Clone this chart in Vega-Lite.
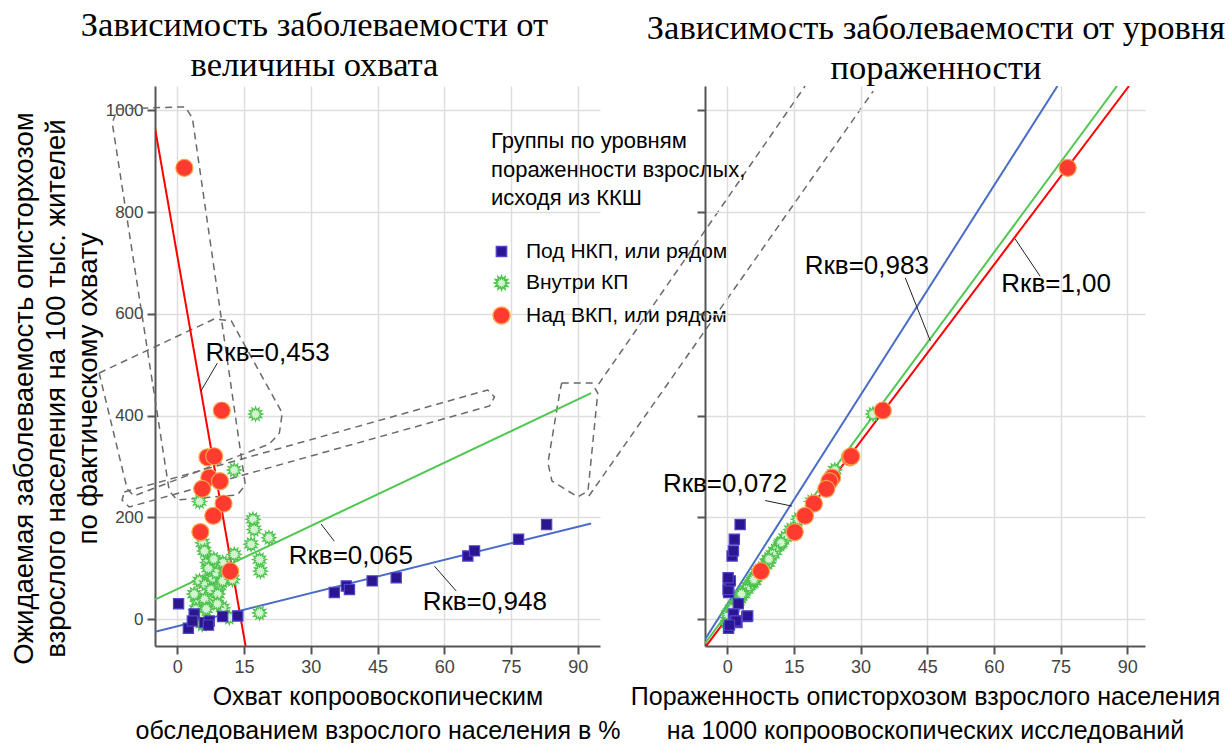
{
  "$schema": "https://vega.github.io/schema/vega-lite/v6.json",
  "background": "white",
  "padding": {"left": 10, "top": 7, "right": 0, "bottom": 0},
  "bounds": "flush",
  "spacing": 105,
  "resolve": {"legend": {"shape": "independent", "fill": "independent", "stroke": "independent", "size": "independent"}},
  "config": {
    "view": {"stroke": null},
    "font": "Liberation Sans",
    "axis": {
      "labelFont": "Liberation Sans", "labelFontSize": 18, "labelColor": "#444",
      "titleFont": "Liberation Sans", "titleFontSize": 25, "titleFontWeight": "normal", "titleColor": "black",
      "titleLineHeight": 34,
      "domainColor": "#555", "domainWidth": 2, "tickColor": "#555", "tickWidth": 2, "tickSize": 8,
      "gridColor": "#dedede", "gridWidth": 1.5, "labelPadding": 4
    },
    "title": {"font": "Liberation Serif", "fontSize": 34.5, "fontWeight": "normal", "color": "black", "anchor": "middle", "frame": "group", "lineHeight": 40}
  },
  "datasets": {
    "pts": [
      {"p":"L","g":"Внутри КП","x":17.6,"y":403},{"p":"L","g":"Внутри КП","x":12.8,"y":293},{"p":"L","g":"Внутри КП","x":5.0,"y":231},
      {"p":"L","g":"Внутри КП","x":17.0,"y":196},{"p":"L","g":"Внутри КП","x":17.3,"y":176},{"p":"L","g":"Внутри КП","x":20.6,"y":160},
      {"p":"L","g":"Внутри КП","x":16.6,"y":147},{"p":"L","g":"Внутри КП","x":18.5,"y":117},{"p":"L","g":"Внутри КП","x":18.7,"y":94},
      {"p":"L","g":"Внутри КП","x":5.7,"y":150},{"p":"L","g":"Внутри КП","x":6.1,"y":134},{"p":"L","g":"Внутри КП","x":6.8,"y":111},
      {"p":"L","g":"Внутри КП","x":10.2,"y":111},{"p":"L","g":"Внутри КП","x":12.8,"y":127},{"p":"L","g":"Внутри КП","x":5.0,"y":75},
      {"p":"L","g":"Внутри КП","x":6.4,"y":68},{"p":"L","g":"Внутри КП","x":8.0,"y":81},{"p":"L","g":"Внутри КП","x":9.5,"y":65},
      {"p":"L","g":"Внутри КП","x":8.7,"y":91},{"p":"L","g":"Внутри КП","x":10.9,"y":91},{"p":"L","g":"Внутри КП","x":4.6,"y":35},
      {"p":"L","g":"Внутри КП","x":6.1,"y":39},{"p":"L","g":"Внутри КП","x":10.2,"y":22},{"p":"L","g":"Внутри КП","x":4.2,"y":19},
      {"p":"L","g":"Внутри КП","x":11.7,"y":3},{"p":"L","g":"Внутри КП","x":18.5,"y":12},{"p":"L","g":"Внутри КП","x":5.6,"y":-10},
      {"p":"L","g":"Внутри КП","x":5.7,"y":9},{"p":"L","g":"Внутри КП","x":7.6,"y":58},{"p":"L","g":"Внутри КП","x":3.8,"y":49},
      {"p":"L","g":"Внутри КП","x":9.1,"y":49},{"p":"L","g":"Внутри КП","x":10.2,"y":75},{"p":"L","g":"Внутри КП","x":12.4,"y":78},
      {"p":"L","g":"Внутри КП","x":7.0,"y":100},{"p":"L","g":"Внутри КП","x":9.0,"y":30},{"p":"L","g":"Внутри КП","x":6.5,"y":20},
      {"p":"L","g":"Внутри КП","x":8.2,"y":118},
      {"p":"L","g":"Под НКП, или рядом","x":0.3,"y":30},{"p":"L","g":"Под НКП, или рядом","x":2.5,"y":-18},{"p":"L","g":"Под НКП, или рядом","x":3.8,"y":10},
      {"p":"L","g":"Под НКП, или рядом","x":3.4,"y":-4},{"p":"L","g":"Под НКП, или рядом","x":6.1,"y":-7},{"p":"L","g":"Под НКП, или рядом","x":7.2,"y":-4},
      {"p":"L","g":"Под НКП, или рядом","x":7.0,"y":-12},{"p":"L","g":"Под НКП, или рядом","x":10.2,"y":5},{"p":"L","g":"Под НКП, или рядом","x":13.6,"y":6},
      {"p":"L","g":"Под НКП, или рядом","x":35.3,"y":52},{"p":"L","g":"Под НКП, или рядом","x":38.0,"y":65},{"p":"L","g":"Под НКП, или рядом","x":38.7,"y":58},
      {"p":"L","g":"Под НКП, или рядом","x":43.8,"y":75},{"p":"L","g":"Под НКП, или рядом","x":49.2,"y":81},{"p":"L","g":"Под НКП, или рядом","x":65.3,"y":124},
      {"p":"L","g":"Под НКП, или рядом","x":66.8,"y":134},{"p":"L","g":"Под НКП, или рядом","x":76.7,"y":157},{"p":"L","g":"Под НКП, или рядом","x":83.0,"y":186},
      {"p":"L","g":"Над ВКП, или рядом","x":1.6,"y":887},{"p":"L","g":"Над ВКП, или рядом","x":10.0,"y":410},{"p":"L","g":"Над ВКП, или рядом","x":6.8,"y":318},
      {"p":"L","g":"Над ВКП, или рядом","x":8.3,"y":320},{"p":"L","g":"Над ВКП, или рядом","x":7.2,"y":278},{"p":"L","g":"Над ВКП, или рядом","x":9.6,"y":271},
      {"p":"L","g":"Над ВКП, или рядом","x":5.6,"y":256},{"p":"L","g":"Над ВКП, или рядом","x":10.4,"y":227},{"p":"L","g":"Над ВКП, или рядом","x":8.1,"y":203},
      {"p":"L","g":"Над ВКП, или рядом","x":5.2,"y":171},{"p":"L","g":"Над ВКП, или рядом","x":11.9,"y":94},

      {"p":"R","g":"Внутри КП","x":32.8,"y":403},{"p":"R","g":"Внутри КП","x":24.2,"y":293},{"p":"R","g":"Внутри КП","x":19.0,"y":231},
      {"p":"R","g":"Внутри КП","x":16.0,"y":196},{"p":"R","g":"Внутри КП","x":14.3,"y":176},{"p":"R","g":"Внутри КП","x":13.0,"y":160},
      {"p":"R","g":"Внутри КП","x":11.9,"y":147},{"p":"R","g":"Внутри КП","x":9.3,"y":117},{"p":"R","g":"Внутри КП","x":7.4,"y":94},
      {"p":"R","g":"Внутри КП","x":12.1,"y":150},{"p":"R","g":"Внутри КП","x":10.8,"y":134},{"p":"R","g":"Внутри КП","x":8.8,"y":111},
      {"p":"R","g":"Внутри КП","x":9.2,"y":111},{"p":"R","g":"Внутри КП","x":10.2,"y":127},{"p":"R","g":"Внутри КП","x":5.8,"y":75},
      {"p":"R","g":"Внутри КП","x":5.2,"y":68},{"p":"R","g":"Внутри КП","x":6.3,"y":81},{"p":"R","g":"Внутри КП","x":4.9,"y":65},
      {"p":"R","g":"Внутри КП","x":7.1,"y":91},{"p":"R","g":"Внутри КП","x":6.8,"y":91},{"p":"R","g":"Внутри КП","x":2.4,"y":35},
      {"p":"R","g":"Внутри КП","x":2.7,"y":39},{"p":"R","g":"Внутри КП","x":1.3,"y":22},{"p":"R","g":"Внутри КП","x":1.0,"y":19},
      {"p":"R","g":"Внутри КП","x":0.2,"y":3},{"p":"R","g":"Внутри КП","x":0.5,"y":12},{"p":"R","g":"Внутри КП","x":0.0,"y":-10},
      {"p":"R","g":"Внутри КП","x":0.2,"y":9},{"p":"R","g":"Внутри КП","x":4.3,"y":58},{"p":"R","g":"Внутри КП","x":3.6,"y":49},
      {"p":"R","g":"Внутри КП","x":3.2,"y":49},{"p":"R","g":"Внутри КП","x":6.1,"y":75},{"p":"R","g":"Внутри КП","x":6.0,"y":78},
      {"p":"R","g":"Внутри КП","x":7.9,"y":100},{"p":"R","g":"Внутри КП","x":1.9,"y":30},{"p":"R","g":"Внутри КП","x":1.1,"y":20},
      {"p":"R","g":"Внутри КП","x":9.4,"y":118},
      {"p":"R","g":"Под НКП, или рядом","x":2.5,"y":30},{"p":"R","g":"Под НКП, или рядом","x":0.3,"y":-18},{"p":"R","g":"Под НКП, или рядом","x":1.4,"y":10},
      {"p":"R","g":"Под НКП, или рядом","x":1.8,"y":-4},{"p":"R","g":"Под НКП, или рядом","x":2.2,"y":-7},{"p":"R","g":"Под НКП, или рядом","x":2.0,"y":-4},
      {"p":"R","g":"Под НКП, или рядом","x":0.5,"y":-12},{"p":"R","g":"Под НКП, или рядом","x":4.4,"y":5},{"p":"R","g":"Под НКП, или рядом","x":4.6,"y":6},
      {"p":"R","g":"Под НКП, или рядом","x":0.3,"y":52},{"p":"R","g":"Под НКП, или рядом","x":0.3,"y":65},{"p":"R","g":"Под НКП, или рядом","x":0.2,"y":58},
      {"p":"R","g":"Под НКП, или рядом","x":0.7,"y":75},{"p":"R","g":"Под НКП, или рядом","x":0.2,"y":81},{"p":"R","g":"Под НКП, или рядом","x":1.1,"y":124},
      {"p":"R","g":"Под НКП, или рядом","x":1.4,"y":134},{"p":"R","g":"Под НКП, или рядом","x":1.6,"y":157},{"p":"R","g":"Под НКП, или рядом","x":2.9,"y":186},
      {"p":"R","g":"Над ВКП, или рядом","x":76.6,"y":887},{"p":"R","g":"Над ВКП, или рядом","x":35.0,"y":410},{"p":"R","g":"Над ВКП, или рядом","x":27.6,"y":318},
      {"p":"R","g":"Над ВКП, или рядом","x":27.9,"y":320},{"p":"R","g":"Над ВКП, или рядом","x":23.6,"y":278},{"p":"R","g":"Над ВКП, или рядом","x":23.0,"y":271},
      {"p":"R","g":"Над ВКП, или рядом","x":22.3,"y":256},{"p":"R","g":"Над ВКП, или рядом","x":19.5,"y":227},{"p":"R","g":"Над ВКП, или рядом","x":17.5,"y":203},
      {"p":"R","g":"Над ВКП, или рядом","x":15.2,"y":171},{"p":"R","g":"Над ВКП, или рядом","x":7.6,"y":94}
    ],
    "lines": [
      {"p":"L","g":"Над ВКП, или рядом","x":-5,"y":965},{"p":"L","g":"Над ВКП, или рядом","x":15.35,"y":-53},
      {"p":"L","g":"Внутри КП","x":-5,"y":38},{"p":"L","g":"Внутри КП","x":93,"y":444},
      {"p":"L","g":"Под НКП, или рядом","x":-5,"y":-25},{"p":"L","g":"Под НКП, или рядом","x":93,"y":188},
      {"p":"R","g":"Под НКП, или рядом","x":-5,"y":-40},{"p":"R","g":"Под НКП, или рядом","x":74.3,"y":1048},
      {"p":"R","g":"Внутри КП","x":-5,"y":-48},{"p":"R","g":"Внутри КП","x":87.7,"y":1048},
      {"p":"R","g":"Над ВКП, или рядом","x":-5,"y":-56},{"p":"R","g":"Над ВКП, или рядом","x":90.4,"y":1048}
    ],
    "dash": [
      {"id":"A","o":1,"x":-13.5,"y":1003},{"id":"A","o":2,"x":1.8,"y":1007},{"id":"A","o":3,"x":3.4,"y":985},{"id":"A","o":4,"x":15.3,"y":263.5},
      {"id":"A","o":5,"x":13.5,"y":244},{"id":"A","o":6,"x":0,"y":234},{"id":"A","o":7,"x":-1.8,"y":252},{"id":"A","o":8,"x":-14.6,"y":975},{"id":"A","o":9,"x":-13.5,"y":1003},
      {"id":"B","o":1,"x":-17.55,"y":483.8},{"id":"B","o":2,"x":8.3,"y":590},{"id":"B","o":3,"x":12.15,"y":586},{"id":"B","o":4,"x":23.6,"y":405},
      {"id":"B","o":5,"x":22.95,"y":365.8},{"id":"B","o":6,"x":20.7,"y":344},{"id":"B","o":7,"x":-9.7,"y":242},{"id":"B","o":8,"x":-11.25,"y":255.7},{"id":"B","o":9,"x":-17.55,"y":483.8},
      {"id":"C","o":1,"x":-11.9,"y":249.8},{"id":"C","o":2,"x":69.75,"y":450.3},{"id":"C","o":3,"x":71.3,"y":436.6},{"id":"C","o":4,"x":70.2,"y":418.9},
      {"id":"C","o":5,"x":-10.8,"y":220.3},{"id":"C","o":6,"x":-12.4,"y":234},{"id":"C","o":7,"x":-11.9,"y":249.8},
      {"id":"D","o":1,"x":86.4,"y":464},{"id":"D","o":2,"x":93.2,"y":464},{"id":"D","o":3,"x":94.5,"y":444.4},{"id":"D","o":4,"x":92.3,"y":251.7},
      {"id":"D","o":5,"x":90,"y":240},{"id":"D","o":6,"x":84.2,"y":271.4},{"id":"D","o":7,"x":83.3,"y":306.8},{"id":"D","o":8,"x":86,"y":448.4},{"id":"D","o":9,"x":86.4,"y":464},
      {"id":"E1","o":1,"x":94.7,"y":462},{"id":"E1","o":2,"x":141.1,"y":1048},
      {"id":"E2","o":1,"x":92.5,"y":241.9},{"id":"E2","o":2,"x":156.4,"y":1038}
    ],
    "notes": [
      {"p":"L","t":"Rкв=0,453","x":20.3,"y":523},
      {"p":"L","t":"Rкв=0,065","x":39,"y":124},
      {"p":"L","t":"Rкв=0,948","x":69.1,"y":33},
      {"p":"R","t":"Rкв=0,983","x":31.4,"y":694},
      {"p":"R","t":"Rкв=1,00","x":74,"y":659},
      {"p":"R","t":"Rкв=0,072","x":-0.5,"y":265}
    ],
    "arrows": [
      {"p":"L","x":9,"y":503,"x2":5.3,"y2":448},
      {"p":"L","x":35.3,"y":153,"x2":32.3,"y2":187},
      {"p":"L","x":62.7,"y":55,"x2":57.8,"y2":104},
      {"p":"R","x":40.05,"y":671,"x2":45.7,"y2":547},
      {"p":"R","x":70.4,"y":674,"x2":64.8,"y2":747},
      {"p":"R","x":8.55,"y":233,"x2":14.6,"y2":222}
    ]
  },
  "hconcat": [
    {
      "width": 445, "height": 560,
      "title": {"text": ["Зависимость заболеваемости от", "величины охвата"], "dx": -63, "offset": 0},
      "encoding": {
        "x": {"field": "x", "type": "quantitative", "scale": {"domain": [-5, 95], "nice": false, "zero": false},
              "axis": {"values": [0, 15, 30, 45, 60, 75, 90], "title": ["Охват копроовоскопическим", "обследованием взрослого населения в %"], "titlePadding": 8}},
        "y": {"field": "y", "type": "quantitative", "scale": {"domain": [-53, 1048], "nice": false, "zero": false},
              "axis": {"values": [0, 200, 400, 600, 800, 1000], "format": "d", "labelFontSize": 17, "title": ["Ожидаемая заболеваемость описторхозом", "взрослого населения на 100 тыс. жителей", "по фактическому охвату"], "titleFontSize": 27.5, "titleLineHeight": 32, "titlePadding": 3, "titleY": 302}}
      },
      "layer": [
        {"data": {"name": "dash"},
         "mark": {"type": "line", "strokeWidth": 1.5, "color": "#6a6a6a", "strokeDash": [7, 5], "clip": false},
         "encoding": {"detail": {"field": "id"}, "order": {"field": "o", "type": "quantitative"}}},
        {"data": {"name": "lines"}, "transform": [{"filter": "datum.p === 'L'"}],
         "mark": {"type": "line", "strokeWidth": 2, "clip": true},
         "encoding": {"color": {"field": "g", "type": "nominal", "legend": null,
           "scale": {"domain": ["Под НКП, или рядом", "Внутри КП", "Над ВКП, или рядом"], "range": ["#4a6cc8", "#52c652", "#ff0000"]}}}},
        {"data": {"name": "arrows"}, "transform": [{"filter": "datum.p === 'L'"}],
         "mark": {"type": "rule", "strokeWidth": 1, "color": "#222"},
         "encoding": {"x2": {"field": "x2"}, "y2": {"field": "y2"}}},
        {"data": {"name": "pts"}, "transform": [{"filter": "datum.p === 'L'"}],
         "mark": {"type": "point", "filled": true, "opacity": 1, "strokeWidth": 1.2},
         "encoding": {
           "shape": {"field": "g", "type": "nominal", "title": ["Группы по уровням", "пораженности  взрослых,", "исходя из ККШ"],
             "scale": {"domain": ["Под НКП, или рядом", "Внутри КП", "Над ВКП, или рядом"], "range": ["square", "M1,0L0.58,0.155L0.866,0.5L0.424,0.424L0.5,0.866L0.155,0.58L0,1L-0.155,0.58L-0.5,0.866L-0.424,0.424L-0.866,0.5L-0.58,0.155L-1,0L-0.58,-0.155L-0.866,-0.5L-0.424,-0.424L-0.5,-0.866L-0.155,-0.58L0,-1L0.155,-0.58L0.5,-0.866L0.424,-0.424L0.866,-0.5L0.58,-0.155Z", "circle"]},
             "legend": {"orient": "none", "legendX": 336, "legendY": 45, "titleFontSize": 22, "titleFontWeight": "normal", "titleColor": "black", "titleLineHeight": 28.5, "titlePadding": 31, "labelFontSize": 21, "labelColor": "black", "labelOffset": 14, "rowPadding": 9.5, "titleLimit": 400, "labelLimit": 400}},
           "fill": {"field": "g", "type": "nominal", "title": ["Группы по уровням", "пораженности  взрослых,", "исходя из ККШ"],
             "scale": {"domain": ["Под НКП, или рядом", "Внутри КП", "Над ВКП, или рядом"], "range": ["#2b1590", "#d2f5d0", "#ff3b2f"]},
             "legend": {"orient": "none", "legendX": 336, "legendY": 45, "titleFontSize": 22, "titleFontWeight": "normal", "titleColor": "black", "titleLineHeight": 28.5, "titlePadding": 31, "labelFontSize": 21, "labelColor": "black", "labelOffset": 14, "rowPadding": 9.5, "titleLimit": 400, "labelLimit": 400}},
           "stroke": {"field": "g", "type": "nominal", "title": ["Группы по уровням", "пораженности  взрослых,", "исходя из ККШ"],
             "scale": {"domain": ["Под НКП, или рядом", "Внутри КП", "Над ВКП, или рядом"], "range": ["#5044c8", "#4cc24c", "#ffa24a"]},
             "legend": {"orient": "none", "legendX": 336, "legendY": 45, "titleFontSize": 22, "titleFontWeight": "normal", "titleColor": "black", "titleLineHeight": 28.5, "titlePadding": 31, "labelFontSize": 21, "labelColor": "black", "labelOffset": 14, "rowPadding": 9.5, "titleLimit": 400, "labelLimit": 400}},
           "size": {"field": "g", "type": "nominal", "title": ["Группы по уровням", "пораженности  взрослых,", "исходя из ККШ"],
             "scale": {"domain": ["Под НКП, или рядом", "Внутри КП", "Над ВКП, или рядом"], "range": [105, 290, 170]},
             "legend": {"orient": "none", "legendX": 336, "legendY": 45, "titleFontSize": 22, "titleFontWeight": "normal", "titleColor": "black", "titleLineHeight": 28.5, "titlePadding": 31, "labelFontSize": 21, "labelColor": "black", "labelOffset": 14, "rowPadding": 9.5, "titleLimit": 400, "labelLimit": 400}}
         }},
        {"data": {"name": "notes"}, "transform": [{"filter": "datum.p === 'L'"}],
         "mark": {"type": "text", "fontSize": 26, "font": "Liberation Sans", "color": "black"},
         "encoding": {"text": {"field": "t"}}}
      ]
    },
    {
      "width": 440, "height": 560,
      "title": {"text": ["Зависимость заболеваемости от уровня", "пораженности"], "dx": 11, "offset": 0},
      "encoding": {
        "x": {"field": "x", "type": "quantitative", "scale": {"domain": [-5, 94], "nice": false, "zero": false},
              "axis": {"values": [0, 15, 30, 45, 60, 75, 90], "title": ["Пораженность описторхозом взрослого населения", "на 1000 копроовоскопических исследований"], "titlePadding": 8}},
        "y": {"field": "y", "type": "quantitative", "scale": {"domain": [-53, 1048], "nice": false, "zero": false},
              "axis": {"values": [0, 200, 400, 600, 800, 1000], "labels": false, "title": null}}
      },
      "layer": [
        {"data": {"name": "lines"}, "transform": [{"filter": "datum.p === 'R'"}],
         "mark": {"type": "line", "strokeWidth": 2, "clip": true},
         "encoding": {"color": {"field": "g", "type": "nominal", "legend": null,
           "scale": {"domain": ["Под НКП, или рядом", "Внутри КП", "Над ВКП, или рядом"], "range": ["#4a6cc8", "#52c652", "#ff0000"]}}}},
        {"data": {"name": "arrows"}, "transform": [{"filter": "datum.p === 'R'"}],
         "mark": {"type": "rule", "strokeWidth": 1, "color": "#222"},
         "encoding": {"x2": {"field": "x2"}, "y2": {"field": "y2"}}},
        {"data": {"name": "pts"}, "transform": [{"filter": "datum.p === 'R'"}],
         "mark": {"type": "point", "filled": true, "opacity": 1, "strokeWidth": 1.2},
         "encoding": {
           "shape": {"field": "g", "type": "nominal", "legend": null},
           "fill": {"field": "g", "type": "nominal", "legend": null},
           "stroke": {"field": "g", "type": "nominal", "legend": null},
           "size": {"field": "g", "type": "nominal", "legend": null}
         }},
        {"data": {"name": "notes"}, "transform": [{"filter": "datum.p === 'R'"}],
         "mark": {"type": "text", "fontSize": 26, "font": "Liberation Sans", "color": "black"},
         "encoding": {"text": {"field": "t"}}}
      ]
    }
  ]
}
